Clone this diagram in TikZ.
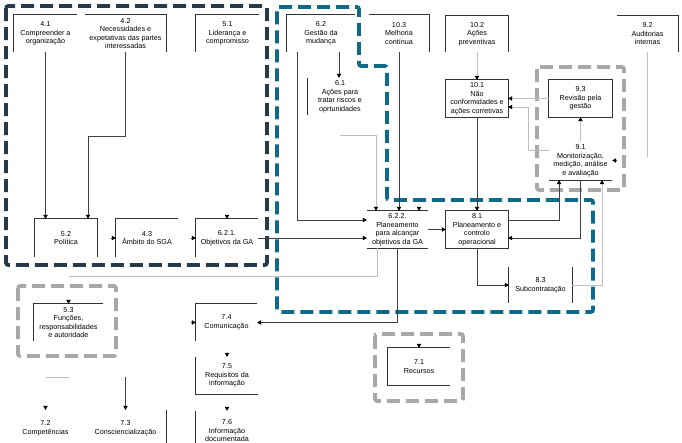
\documentclass[tikz,border=0pt]{standalone}
\usepackage{fontspec}
\setmainfont{Liberation Sans}
\usepackage{tikz}
\usetikzlibrary{arrows.meta, calc}
\definecolor{ZoneDark}{HTML}{263A49}
\definecolor{ZoneBlue}{HTML}{0E6A8A}
\definecolor{ZoneGrey}{HTML}{A8A8A8}
\newcommand{\lbl}{\fontsize{7.2}{8.5}\selectfont}

\tikzset{
  proc/.style={inner sep=0pt, align=center, font=\lbl, text=black},
  frm/.style={line width=0.8pt, draw=black!80},
  arr/.style={-{Triangle[length=4pt, width=4.5pt, color=black]}, line width=0.6pt, draw=black!75},
  pale/.style={draw=black!25},
  zone/.style={line width=3.6pt, dash pattern=on 13pt off 6pt, rounded corners=2pt}
}

\begin{document}
\begin{tikzpicture}[x=1pt, y=-1pt]
  \useasboundingbox (0,0) rectangle (682,442);
  % --- Zones ---
  \draw[zone, ZoneDark] (6,6) rectangle (267,265);
  \draw[zone, ZoneBlue] (277,7) -- (359,7) -- (359,66) -- (387,66) -- (387,200)
    -- (593,200) -- (593,312) -- (277,312) -- cycle;
  \draw[zone, ZoneGrey] (537,67) rectangle (624,190);
  \draw[zone, ZoneGrey] (18,286) rectangle (116,356);
  \draw[zone, ZoneGrey] (375,334) rectangle (463,401);

  % --- Processes: context and leadership ---
  \node[proc, minimum width=63, minimum height=37] (p41) at (45.5,33.5) {4.1\\Compreender a\\organização};
  \node[proc, minimum width=81, minimum height=37] (p42) at (125.5,33.5) {4.2\\Necessidades e\\expetativas das partes\\interessadas};
  \node[proc, minimum width=63, minimum height=37] (p51) at (227.5,33.5) {5.1\\Liderança e\\compromisso};
  \node[proc, minimum width=62, minimum height=38] (p52) at (66,238) {5.2\\Política};
  \node[proc, minimum width=62, minimum height=38] (p43) at (147,238) {4.3\\Âmbito do SGA};
  \node[proc, minimum width=62, minimum height=38] (p621) at (227,238) {6.2.1.\\Objetivos da GA};
  \node[proc, minimum width=69, minimum height=37] (p53) at (68.5,322.5) {5.3\\Funções,\\responsabilidades\\e autoridade};

  % --- Processes: planning and operation ---
  \node[proc, minimum width=68, minimum height=37] (p82) at (321,33.5) {6.2\\Gestão da\\mudança};
  \node[proc, minimum width=64, minimum height=37] (p61) at (340,96.5) {6.1\\Ações para\\tratar riscos e\\oprtunidades};
  \node[proc, minimum width=60, minimum height=37] (p103) at (399,33.5) {10.3\\Melhoria\\contínua};
  \node[proc, minimum width=61, minimum height=37] (p622) at (397.5,229.5) {6.2.2.\\Planeamento\\para alcançar\\objetivos da GA};
  \node[proc, minimum width=62, minimum height=37] (p81) at (477,229.5) {8.1\\Planeamento e\\controlo\\operacional};
  \node[proc, minimum width=63, minimum height=36] (p83) at (540.5,285) {8.3\\Subcontratação};

  % --- Processes: evaluation and improvement ---
  \node[proc, minimum width=62, minimum height=36] (p102) at (477,34) {10.2\\Ações\\preventivas};
  \node[proc, minimum width=61, minimum height=36] (p92) at (647.5,34) {9.2\\Auditorias\\internas};
  \node[proc, minimum width=62, minimum height=37] (p101) at (477,98.5) {10.1\\Não\\conformidades e\\ações corretivas};
  \node[proc, minimum width=63, minimum height=37] (p93) at (580.5,98.5) {9.3\\Revisão pela\\gestão};
  \node[proc, minimum width=63, minimum height=39] (p91) at (580.5,160.5) {9.1\\Monitorização,\\medição, análise\\e avaliação};

  % --- Processes: support ---
  \node[proc, minimum width=61, minimum height=37] (p74) at (226.5,322.5) {7.4\\Comunicação};
  \node[proc, minimum width=62, minimum height=37] (p75) at (227,375.5) {7.5\\Requisitos da\\informação};
  \node[proc, minimum width=62, minimum height=40] (p76) at (227,431) {7.6\\Informação\\documentada};
  \node[proc, minimum width=62, minimum height=37] (p71) at (419,366.5) {7.1\\Recursos};
  \node[proc, minimum width=81, minimum height=36] (p73) at (125.5,428) {7.3\\Consciencialização};
  \node[proc, minimum width=63, minimum height=36] (p72) at (45.5,428) {7.2\\Competências};

  % --- Frames ---
  \draw[frm] (p41.south west) -- (p41.north west) -- (p41.north east);
  \draw[frm] (p42.north west) -- (p42.north east) -- (p42.south east);
  \draw[frm] (p51.south west) -- (p51.north west) -- (p51.north east);
  \draw[frm] (p52.south west) -- (p52.north west) -- (p52.north east) -- (p52.south east);
  \draw[frm] (p43.south west) -- (p43.north west) -- (p43.north east);
  \draw[frm] (p621.south west) -- (p621.north west) -- (p621.north east);
  \draw[frm] (p53.south west) -- (p53.north west) -- (p53.north east);
  \draw[frm] (p82.south west) -- (p82.north west) -- (p82.north east);
  \draw[frm] (p61.north west) -- (p61.south west);
  \draw[frm] (p103.north west) -- (p103.north east) -- (p103.south east);
  \draw[frm] (p622.north west) -- (p622.north east);
  \draw[frm] (p622.south west) -- (p622.south east);
  \draw[frm] (p81.south west) rectangle (p81.north east);
  \draw[frm] (p83.north west) -- (p83.south west);
  \draw[frm] (p83.north east) -- (p83.south east);
  \draw[frm] (p102.south west) -- (p102.north west) -- (p102.north east) -- (p102.south east);
  \draw[frm] (p92.north west) -- (p92.north east) -- (p92.south east);
  \draw[frm] (p101.south west) rectangle (p101.north east);
  \draw[frm] (p93.south west) rectangle (p93.north east);
  \draw[frm] (p91.south west) -- (p91.south east);
  \draw[frm] (p74.south west) -- (p74.north west) -- (p74.north east);
  \draw[frm] (p75.north west) -- (p75.south west) -- (p75.south east);
  \draw[frm] (p76.north west) -- (p76.south west);
  \draw[frm] (p71.north east) -- (p71.north west) -- (p71.south west) -- (p71.south east);
  \draw[frm] (p73.north east) -- (p73.south east);

  % --- Connectors ---
  \draw[arr] (p41.south) -- (p41.south |- p52.north);
  \draw[arr] (p42.south) -- (p42.south |- 0,136) -| ([xshift=22pt]p52.north);
  \draw[arr] (p621.east) -- (p621.east -| p622.west);
  \draw[arr] ([xshift=18pt]p82.south) -- ([xshift=18pt]p82.south |- p61.north);
  \draw[arr] ([xshift=-24pt]p82.south) |- ([yshift=9.5pt]p622.west);
  \draw[arr, pale] ([yshift=-20pt]p61.south) -| ([xshift=-21.5pt]p622.north);
  \draw[arr] (p103.south) -- (p103.south |- p622.north);
  \draw[arr] (p622.east) -- (p81.west);
  \coordinate (e53) at (69,276);
  \draw[pale] ([xshift=-20.5pt]p622.south) |- (e53);
  \draw[arr] (p622.south) |- (p74.east);
  \draw[arr, pale] (p102.south) -- (p101.north);
  \draw[arr] (p101.south) -- (p81.north);
  \draw[arr, pale] (p93.west) -- (p101.east);
  \draw[arr, pale] ([yshift=10.5pt]p91.west) -- ++(-21,0) |- ([yshift=-8.5pt]p101.east);
  \draw[arr, pale] (p91.north) -- (p93.south);
  \coordinate (e92) at (647.5,157);
  \draw[pale] (p92.south) -- (e92);
  \draw[arr] ([yshift=9.5pt]p81.east) -| ([xshift=-21.5pt]p91.south);
  \draw[arr] (p91.south) |- ([yshift=-8.5pt]p81.east);
  \draw[arr] (p81.south) |- (p83.west);
  \draw[arr, pale] (p83.east) -| ([xshift=21.5pt]p91.south);
  \coordinate (e72a) at (46,377);
  \coordinate (e72b) at (69,377);
  \draw[pale] (e72a) -- (e72b);
  \draw[arr] (p73.north |- 0,377) -- (p73.north);

  % --- Loose arrow tips ---
  \draw[arr] ([yshift=4pt]p621.north) -- (p621.north);
  \draw[arr] ([xshift=-5pt]p43.west) -- (p43.west);
  \draw[arr] ([xshift=-5pt]p621.west) -- (p621.west);
  \draw[arr] ([xshift=-5pt]p74.west) -- (p74.west);
  \draw[arr] ([xshift=21.5pt, yshift=4pt]p622.north) -- ([xshift=21.5pt]p622.north);
  \draw[arr] ([xshift=5pt]p91.east) -- (p91.east);
  \draw[arr] ([yshift=4pt]p53.north) -- (p53.north);
  \draw[arr] ([yshift=4pt]p71.north) -- (p71.north);
  \draw[arr] ([yshift=4pt]p75.north) -- (p75.north);
  \draw[arr] ([yshift=4pt]p76.north) -- (p76.north);
  \draw[arr] ([yshift=4pt]p72.north) -- (p72.north);
\end{tikzpicture}
\end{document}
